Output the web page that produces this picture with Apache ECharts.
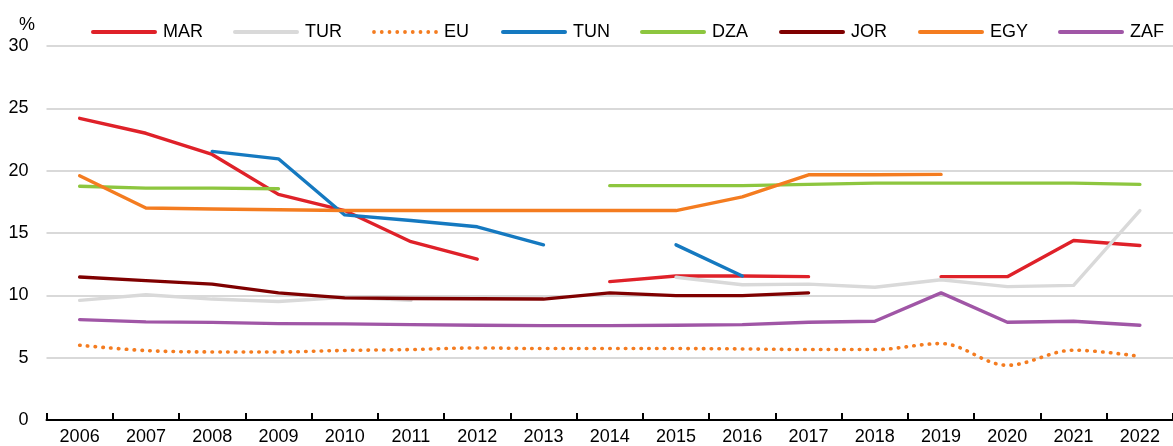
<!DOCTYPE html>
<html>
<head>
<meta charset="utf-8">
<script src="https://cdn.jsdelivr.net/npm/echarts@6/dist/echarts.min.js"></script>
<style>
  html, body { margin: 0; padding: 0; background: #fff; }
  #chart { width: 1173px; height: 446px; }
</style>
</head>
<body>
<div id="chart"></div>
<script>
// Years on the category axis
const years = ['2006','2007','2008','2009','2010','2011','2012','2013','2014','2015','2016','2017','2018','2019','2020','2021','2022'];

// Values in %, null where a country has no observation
const MAR = [24.2, 23.0, 21.3, 18.1, 16.8, 14.3, 12.9, null, 11.1, 11.55, 11.55, 11.5, null, 11.5, 11.5, 14.4, 14.0];
const TUR = [9.6, 10.05, 9.7, 9.5, 9.85, 9.6, null, null, null, 11.45, 10.85, 10.9, 10.65, 11.25, 10.7, 10.8, 16.8];
const EU  = [6.0, 5.57, 5.46, 5.46, 5.58, 5.65, 5.78, 5.73, 5.73, 5.73, 5.7, 5.65, 5.65, 6.13, 4.39, 5.6, 5.1];
const TUN = [null, null, 21.55, 20.95, 16.45, 16.0, 15.5, 14.05, null, 14.05, 11.55, null, null, null, null, null, null];
const DZA = [18.75, 18.6, 18.6, 18.55, null, null, null, null, 18.8, 18.8, 18.8, 18.9, 19.0, 19.0, 19.0, 19.0, 18.9];
const JOR = [11.47, 11.18, 10.9, 10.2, 9.8, 9.75, 9.73, 9.7, 10.2, 9.98, 9.98, 10.2, null, null, null, null, null];
const EGY = [19.6, 17.0, 16.92, 16.87, 16.8, 16.8, 16.8, 16.8, 16.8, 16.8, 17.9, 19.67, 19.67, 19.7, null, null, null];
const ZAF = [8.05, 7.87, 7.83, 7.73, 7.71, 7.65, 7.6, 7.57, 7.57, 7.6, 7.65, 7.84, 7.92, 10.2, 7.84, 7.92, 7.6];

// Y-axis ticks
const yTicks = { min: 0, max: 30, step: 5 };

const FONT = "'Liberation Sans Narrow', 'Arial Narrow', 'Liberation Sans', Arial, sans-serif";
const FONT_SIZE = 18;

const seriesDefs = [
  { name: 'MAR', data: MAR, color: '#DF2129' },
  { name: 'TUR', data: TUR, color: '#D9D9D9' },
  { name: 'EU',  data: EU,  color: '#F47C20', dotted: true },
  { name: 'TUN', data: TUN, color: '#1579C0' },
  { name: 'DZA', data: DZA, color: '#8DC63F' },
  { name: 'JOR', data: JOR, color: '#7F0000' },
  { name: 'EGY', data: EGY, color: '#F47C20' },
  { name: 'ZAF', data: ZAF, color: '#A056A6' }
];

// Legend keys: a solid bar, or a row of dots for the dotted series
const KEY_W = 66, KEY_H = 4;
const solidKey = 'path://M2,0H64A2,2 0 0 1 64,4H2A2,2 0 0 1 2,0Z';
const dotKey = 'path://' + Array.from({ length: 9 }, (_, i) => {
  const cx = 2 + i * 7.75;
  return `M${cx - 1.9},2A1.9,1.9 0 1 0 ${cx + 1.9},2A1.9,1.9 0 1 0 ${cx - 1.9},2Z`;
}).join('') + 'M0,0ZM66,4Z';

// Legend entries sit at fixed horizontal slots across the top
const legendLeft = [91, 233, 372, 501, 640, 779, 918, 1058];

const chart = echarts.init(document.getElementById('chart'), null, { renderer: 'canvas' });

chart.setOption({
  animation: false,
  backgroundColor: '#ffffff',
  textStyle: { fontFamily: FONT },
  grid: { left: 46.5, top: 46, width: 1137.5, height: 374.5, containLabel: false },
  legend: seriesDefs.map((s, i) => ({
    data: [{ name: s.name, icon: s.dotted ? dotKey : solidKey }],
    left: legendLeft[i],
    top: 23,
    itemWidth: KEY_W,
    itemHeight: KEY_H,
    symbolKeepAspect: false,
    padding: 0,
    textStyle: { fontFamily: FONT, fontSize: FONT_SIZE, color: '#000', padding: [0, 0, 0, 1] },
    selectedMode: false
  })),
  xAxis: {
    type: 'category',
    data: years,
    boundaryGap: true,
    axisLine: { show: true, lineStyle: { color: '#000', width: 2 } },
    axisTick: { show: true, inside: true, length: 7, lineStyle: { color: '#000', width: 2 } },
    axisLabel: { fontFamily: FONT, fontSize: FONT_SIZE, color: '#000', margin: 8 },
    splitLine: { show: false }
  },
  yAxis: {
    type: 'value',
    min: yTicks.min,
    max: yTicks.max,
    interval: yTicks.step,
    axisLine: { show: false },
    axisTick: { show: false },
    axisLabel: { fontFamily: FONT, fontSize: FONT_SIZE, color: '#000', margin: 18 },
    splitLine: { show: true, lineStyle: { color: '#D9D9D9', width: 2 } }
  },
  graphic: [{
    type: 'text',
    left: 19,
    top: 16,
    style: { text: '%', font: FONT_SIZE + "px " + FONT, fill: '#000' }
  }],
  series: seriesDefs.map(s => ({
    name: s.name,
    type: 'line',
    data: s.data,
    symbol: 'none',
    smooth: s.dotted ? 0.35 : false,
    connectNulls: false,
    color: s.color,
    itemStyle: { color: s.color },
    lineStyle: s.dotted
      ? { color: s.color, width: 3.6, type: [0.5, 7.3], cap: 'round' }
      : { color: s.color, width: 3.4, cap: 'round', join: 'round' },
    emphasis: { disabled: true }
  }))
});
</script>
</body>
</html>
